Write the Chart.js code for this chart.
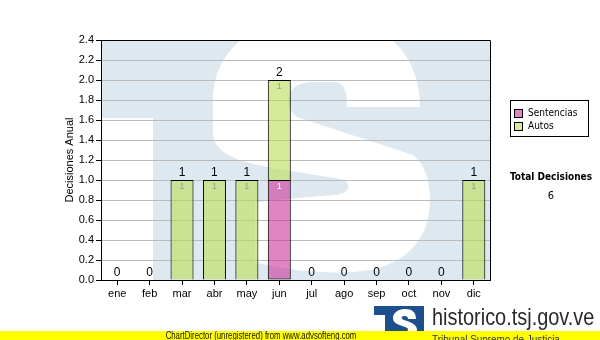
<!DOCTYPE html>
<html>
<head>
<meta charset="utf-8">
<script src="https://cdn.jsdelivr.net/npm/chart.js@4.4.1/dist/chart.umd.min.js"></script>
<style>
  html, body { margin:0; padding:0; background:#fff; }
  #wrap { position:relative; width:600px; height:340px; overflow:hidden; font-family:"Liberation Sans", Arial, sans-serif; }
  #c { position:absolute; left:0; top:0; }
  .abs { position:absolute; white-space:nowrap; }
  #legend { left:510px; top:100px; width:77px; height:35px; border:1px solid #000; background:#fff;
            font-family:"DejaVu Sans Condensed","DejaVu Sans",sans-serif; font-size:10px; color:#000; }
  .li { position:absolute; left:3px; height:12px; line-height:12px; }
  .sw { position:absolute; left:0; top:2px; width:7px; height:7px; border:1px solid #000; }
  .lt { position:absolute; left:14px; top:0; }
  #totT { left:500px; width:102px; top:171px; text-align:center; font-family:"DejaVu Sans Condensed","DejaVu Sans",sans-serif; font-weight:bold; font-size:10px; color:#000; }
  #totV { left:500px; width:102px; top:189px; text-align:center; font-family:"DejaVu Sans Condensed","DejaVu Sans",sans-serif; font-size:11px; color:#000; }
  #banner { left:0; top:331px; width:600px; height:9px; background:#ffff00; }
  #bannerT { left:261px; top:330px; font-size:10px; line-height:11px; color:#111; transform:translateX(-50%) scaleX(0.78); }
  #site { left:432px; top:303px; font-size:24px; line-height:28px; color:#2a2a2a; transform-origin:0 0; transform:scaleX(0.83); }
  #trib { left:432px; top:333px; font-size:11px; line-height:12px; color:#333; transform-origin:0 0; transform:scaleX(0.9); }
  #logo { left:374px; top:306px; }
</style>
</head>
<body>
<div id="wrap">
  <canvas id="c" width="600" height="340"></canvas>
  <div id="legend" class="abs">
    <div class="li" style="top:6px"><span class="sw" style="background:#e085c2"></span><span class="lt">Sentencias</span></div>
    <div class="li" style="top:19px"><span class="sw" style="background:#d6ec9c"></span><span class="lt">Autos</span></div>
  </div>
  <div id="totT" class="abs">Total Decisiones</div>
  <div id="totV" class="abs">6</div>
  <canvas id="logo" class="abs" width="50" height="34"></canvas>
  <div id="site" class="abs">historico.tsj.gov.ve</div>
  <div id="banner" class="abs"></div>
  <div id="bannerT" class="abs">ChartDirector (unregistered) from www.advsofteng.com</div>
  <div id="trib" class="abs">Tribunal Supremo de Justicia</div>
</div>
<script>
// ---- data ----
const categories = ['ene','feb','mar','abr','may','jun','jul','ago','sep','oct','nov','dic'];
const sentencias = [0,0,0,0,0,1,0,0,0,0,0,0];
const autos      = [0,0,1,1,1,1,0,0,0,0,0,1];
const seriesNames = ['Sentencias','Autos'];
const yMin = 0, yMax = 2.4, yStep = 0.2;
const totalDecisiones = 6;

document.getElementById('totV').textContent = String(totalDecisiones);

const SENT_COLOR = 'rgba(204,51,153,0.6)';
const AUTO_COLOR = 'rgba(187,221,85,0.6)';

// watermark drawn behind the plot
const watermark = {
  id: 'watermark',
  beforeDraw(chart) {
    const { ctx, chartArea: a } = chart;
    ctx.save();
    ctx.beginPath(); ctx.rect(a.left, a.top, a.width, a.height); ctx.clip();
    ctx.fillStyle = '#dee8f1';
    ctx.fillRect(a.left, a.top, a.width, a.height);
    ctx.translate(a.left, a.top);
    ctx.scale(a.width / 389, a.height / 240);
    ctx.translate(-101, -40);
    ctx.fillStyle = '#ffffff';
    ctx.fillRect(101, 118, 52, 170);
    ctx.beginPath();
    ctx.moveTo(347, 107);
    ctx.lineTo(420, 107);
    ctx.bezierCurveTo(420, 50, 380, 16, 318, 16);
    ctx.bezierCurveTo(255, 16, 213, 50, 213, 100);
    ctx.lineTo(213, 135);
    ctx.bezierCurveTo(216, 160, 255, 165, 297, 172);
    ctx.lineTo(335, 178);
    ctx.bezierCurveTo(353, 180, 353, 193, 335, 195);
    ctx.lineTo(297, 198);
    ctx.lineTo(255, 202);
    ctx.lineTo(255, 262);
    ctx.bezierCurveTo(290, 272, 340, 275, 370, 270);
    ctx.bezierCurveTo(410, 262, 430, 235, 430, 200);
    ctx.bezierCurveTo(430, 180, 424, 163, 413, 155);
    ctx.lineTo(300, 118);
    ctx.bezierCurveTo(282, 110, 283, 84, 310, 82);
    ctx.lineTo(335, 82);
    ctx.bezierCurveTo(346, 84, 347, 95, 347, 107);
    ctx.closePath();
    ctx.fill();
    ctx.restore();
  }
};

const labels = {
  id: 'labels',
  afterDatasetsDraw(chart) {
    const { ctx, chartArea: a } = chart;
    const y = chart.scales.y;
    const meta = chart.getDatasetMeta(0);
    ctx.save();
    // top and right frame
    ctx.strokeStyle = '#000'; ctx.lineWidth = 1;
    ctx.beginPath();
    ctx.moveTo(a.left, a.top + 0.5);
    ctx.lineTo(a.right + 0.5, a.top + 0.5);
    ctx.lineTo(a.right + 0.5, a.bottom);
    ctx.stroke();
    ctx.textAlign = 'center';
    ctx.textBaseline = 'middle';
    categories.forEach((c, i) => {
      const x = meta.data[i].x;
      const total = sentencias[i] + autos[i];
      ctx.fillStyle = '#000';
      ctx.font = '12px "Liberation Sans", Arial, sans-serif';
      ctx.fillText(String(total), x, y.getPixelForValue(total) - 7);
      const segs = [[sentencias[i], 0, '#ffffff'], [autos[i], sentencias[i], '#999999']];
      segs.forEach(([v, base, col]) => {
        if (v > 0) {
          ctx.fillStyle = col;
          ctx.font = '9px "Liberation Sans", Arial, sans-serif';
          ctx.fillText(String(v), x, y.getPixelForValue(base + v) + 7);
        }
      });
    });
    ctx.restore();
  }
};

Chart.defaults.font.family = '"Liberation Sans", Arial, sans-serif';
Chart.defaults.font.size = 11;
Chart.defaults.color = '#000';

new Chart(document.getElementById('c'), {
  type: 'bar',
  data: {
    labels: categories,
    datasets: [
      { label: seriesNames[0], data: sentencias, backgroundColor: SENT_COLOR, borderColor: '#000',
        borderWidth: c => (c.raw ? 1 : 0), borderSkipped: false },
      { label: seriesNames[1], data: autos, backgroundColor: AUTO_COLOR, borderColor: '#000',
        borderWidth: c => (c.raw ? 1 : 0), borderSkipped: 'bottom' }
    ]
  },
  options: {
    responsive: false,
    animation: false,
    devicePixelRatio: 1,
    layout: { padding: { left: 0, right: 110, top: 40, bottom: 0 } },
    plugins: { legend: { display: false }, tooltip: { enabled: false }, title: { display: false } },
    datasets: { bar: { categoryPercentage: 1, barPercentage: 0.71 } },
    scales: {
      x: {
        stacked: true,
        grid: { display: true, drawOnChartArea: false, offset: false, tickLength: 5, tickColor: '#000' },
        border: { display: true, color: '#000', width: 1 },
        ticks: { padding: 2, color: '#000', font: { size: 11 } },
        afterFit(s) { s.height = 60; }
      },
      y: {
        stacked: true,
        min: yMin, max: yMax,
        grid: { color: '#bbbbbb', tickLength: 5, tickColor: '#000' },
        border: { display: true, color: '#000', width: 1 },
        ticks: { stepSize: yStep, padding: 2, color: '#000', font: { size: 11 },
                 callback: v => Number(v).toFixed(1) },
        title: { display: true, text: 'Decisiones Anual', color: '#000', font: { size: 11 },
                 padding: { top: 63, bottom: 0 } },
        afterFit(s) { s.width = 101; }
      }
    }
  },
  plugins: [watermark, labels]
});

// small logo mark next to the site name
(function () {
  const l = document.getElementById('logo').getContext('2d');
  l.fillStyle = '#1d4f8f';
  l.fillRect(0, 0, 50, 34);
  l.fillStyle = '#fff';
  l.fillRect(0, 9, 11, 25);
  l.beginPath();
  l.moveTo(34, 13); l.lineTo(42, 13);
  l.bezierCurveTo(42, 6, 38, 3, 31, 3);
  l.bezierCurveTo(24, 3, 19, 7, 19, 12);
  l.bezierCurveTo(19, 18, 26, 19, 31, 21);
  l.bezierCurveTo(35, 22, 35, 25, 31, 26);
  l.lineTo(22, 25); l.lineTo(22, 31);
  l.bezierCurveTo(30, 33, 43, 33, 43, 24);
  l.bezierCurveTo(43, 18, 36, 16, 30, 14);
  l.bezierCurveTo(27, 13, 27, 10, 30, 10);
  l.bezierCurveTo(33, 10, 34, 11, 34, 13);
  l.closePath(); l.fill();
})();
</script>
</body>
</html>
